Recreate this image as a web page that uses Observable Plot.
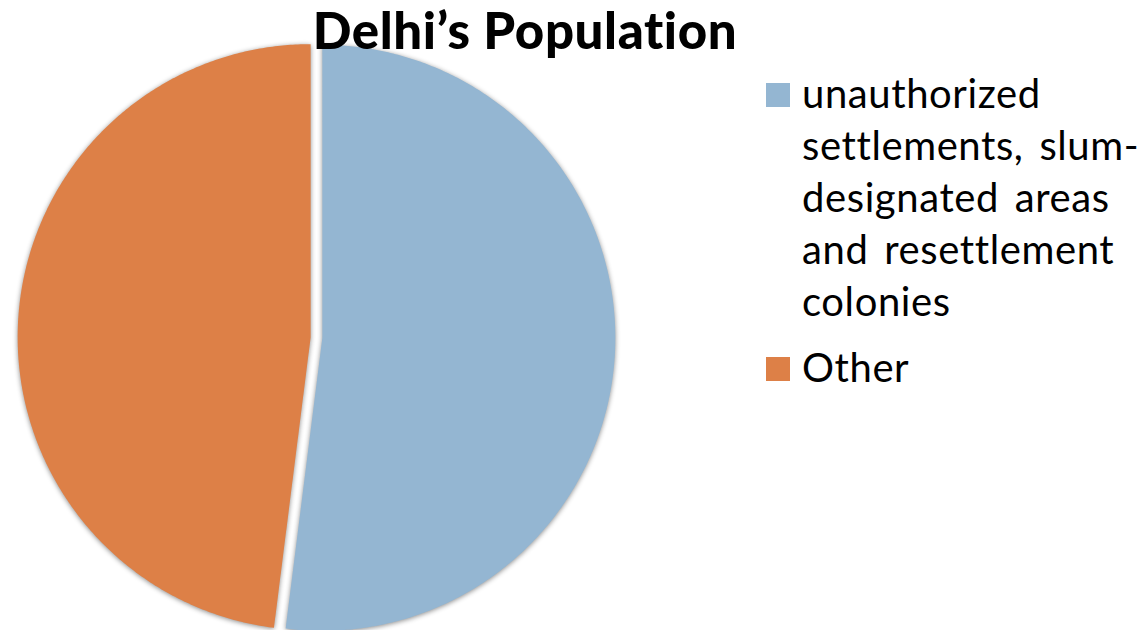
<!DOCTYPE html>
<html><head><meta charset="utf-8">
<script src="https://cdn.jsdelivr.net/npm/d3@7"></script>
<script src="https://cdn.jsdelivr.net/npm/@observablehq/plot@0.6"></script>
<style>
html,body{margin:0;padding:0;background:#fff;}
#wrap{position:relative;width:1143px;height:630px;overflow:hidden;font-family:Lato,"Open Sans",sans-serif;font-variant-ligatures:none;font-feature-settings:"liga" 0,"clig" 0;}
#title{position:absolute;left:0;width:1050px;text-align:center;top:0px;font-size:51px;line-height:60px;font-weight:900;color:#000;letter-spacing:0.6px;}
#legend{position:absolute;left:766px;top:67px;color:#000;}
.item{position:relative;padding-left:36px;font-size:40px;line-height:52px;letter-spacing:0.6px;word-spacing:5px;white-space:nowrap;}
.sw{position:absolute;left:0;width:24px;height:24px;}
</style></head>
<body><div id="wrap"><div id="chart"></div><div id="title"></div><div id="legend"></div></div>
<script>
const categories = ["unauthorized settlements, slum-designated areas and resettlement colonies", "Other"];
const legendLines = [["unauthorized","settlements, slum-","designated areas","and resettlement","colonies"],["Other"]];
const values = [52, 48];
const colors = ["#94B6D2", "#DD8047"];
const titleText = "Delhi\u2019s Population";

const explode = 0.02;
const total = d3.sum(values);
let acc = 0;
const pts = [];
categories.forEach((c, i) => {
  const a0 = acc / total * 2 * Math.PI;
  acc += values[i];
  const a1 = acc / total * 2 * Math.PI;
  const mid = (a0 + a1) / 2;
  const ox = explode * Math.sin(mid), oy = explode * Math.cos(mid);
  pts.push({cat: c, x: ox, y: oy});
  const n = Math.ceil((a1 - a0) / (Math.PI / 360));
  for (let k = 0; k <= n; k++) {
    const a = a0 + (a1 - a0) * k / n;
    pts.push({cat: c, x: ox + Math.sin(a), y: oy + Math.cos(a)});
  }
  pts.push({cat: c, x: ox, y: oy});
});

const cx = 316, cy = 337, R = 293;
const W = 1143, H = 630;
const chart = Plot.plot({
  width: W, height: H,
  marginLeft: cx - R, marginRight: W - (cx + R),
  marginTop: cy - R, marginBottom: H - (cy + R),
  x: {domain: [-1, 1], axis: null},
  y: {domain: [-1, 1], axis: null},
  color: {domain: categories, range: colors},
  style: {overflow: "visible", background: "transparent"},
  marks: [
    Plot.line(pts, {x: "x", y: "y", z: "cat", fill: "cat", stroke: "none", curve: "linear-closed"})
  ]
});
d3.select(chart).selectAll("path").style("filter", "drop-shadow(0px 1px 2.5px rgba(0,0,0,0.45))");
document.getElementById("chart").appendChild(chart);

document.getElementById("title").textContent = titleText;
const lg = d3.select("#legend");
categories.forEach((c, i) => {
  const it = lg.append("div").attr("class", "item").style("margin-bottom", i === 0 ? "14px" : "0");
  it.append("div").attr("class", "sw").style("background", colors[i]).style("top", "16px");
  it.append("div").html(legendLines[i].join("<br>"));
});
</script></body></html>
